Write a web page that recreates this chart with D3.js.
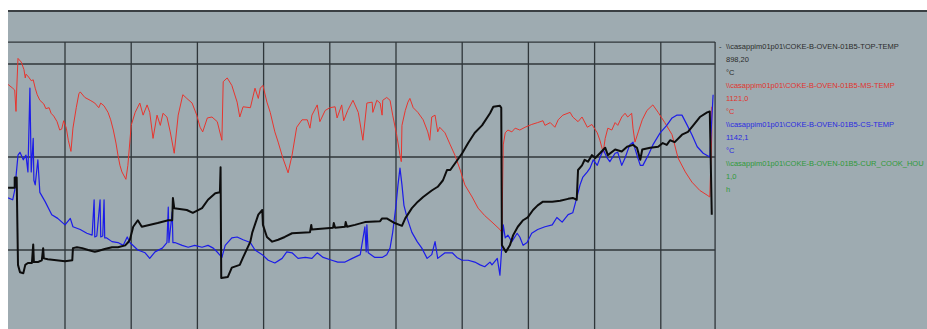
<!DOCTYPE html>
<html><head><meta charset="utf-8">
<script src="https://cdn.jsdelivr.net/npm/d3@7/dist/d3.min.js"></script>
<style>html,body{margin:0;padding:0;background:#fff;overflow:hidden}</style>
</head><body><svg id="c" width="927" height="329"></svg>
<script>
// ---- data: time in hours, temperature in °C ----
const hourTicks = [1,2,3,4,5,6,7,8,9,10];
const tempTicks = [800,900,1000];
const timeStart = 0.14, timeEnd = 10.82, frameTop = 1023.6;

const seriesNames = [
  "\\\\casappim01p01\\COKE-B-OVEN-01B5-TOP-TEMP",
  "\\\\casappim01p01\\COKE-B-OVEN-01B5-MS-TEMP",
  "\\\\casappim01p01\\COKE-B-OVEN-01B5-CS-TEMP",
  "\\\\casappim01p01\\COKE-B-OVEN-01B5-CUR_COOK_HOU"
];
const seriesCurrent = ["898,20","1121,0","1142,1","1,0"];
const seriesUnits = ["°C","°C","°C","h"];

const topTemp = [
[0.14,867],[0.24,867],[0.24,878],[0.27,878],[0.29,784],[0.32,776],[0.37,775],[0.40,784],[0.44,786],[0.50,786],
[0.52,806],[0.53,787],[0.59,787],[0.65,789],[0.67,802],[0.68,791],[0.74,790],[1.00,788],[1.11,789],[1.12,802],
[1.18,803],[1.26,802],[1.35,800],[1.45,798],[1.50,799],[1.60,801],[1.71,803],[1.80,803],[1.91,805],[1.95,808],
[1.98,811],[2.03,825],[2.10,832],[2.16,825],[2.40,829],[2.56,832],[2.62,832],[2.63,856],[2.65,845],[2.84,843],
[2.93,840],[3.07,845],[3.16,854],[3.27,861],[3.34,862],[3.35,889],[3.36,770],[3.46,771],[3.52,781],[3.64,784],
[3.69,792],[3.80,809],[3.83,819],[3.92,838],[3.98,843],[3.99,827],[4.05,814],[4.13,809],[4.22,811],[4.32,814],
[4.43,818],[4.70,819],[4.72,827],[4.73,822],[5.05,824],[5.06,829],[5.08,824],[5.23,825],[5.24,830],[5.26,825],
[5.38,827],[5.53,830],[5.76,831],[5.79,834],[5.86,834],[5.98,829],[6.09,826],[6.14,834],[6.24,845],[6.33,852],
[6.41,857],[6.54,864],[6.63,868],[6.71,875],[6.77,886],[6.82,886],[6.89,893],[7.00,904],[7.09,915],[7.19,926],
[7.30,934],[7.42,947],[7.47,954],[7.57,955],[7.59,953],[7.60,805],[7.66,798],[7.72,805],[7.77,816],[7.84,825],
[7.92,832],[7.99,835],[8.07,843],[8.14,848],[8.22,852],[8.36,852],[8.48,853],[8.60,855],[8.67,856],[8.73,854],
[8.75,886],[8.81,891],[8.85,897],[8.90,895],[8.96,902],[9.01,899],[9.08,904],[9.16,910],[9.20,902],[9.31,908],
[9.41,906],[9.49,911],[9.58,913],[9.64,910],[9.69,897],[9.72,908],[9.84,910],[9.96,911],[10.03,915],[10.09,913],
[10.14,918],[10.21,916],[10.32,924],[10.41,927],[10.49,934],[10.59,943],[10.70,948],[10.74,949],[10.77,838]
];

const msTemp = [
[0.14,978],[0.21,974],[0.24,972],[0.26,949],[0.27,972],[0.29,1006],[0.34,1002],[0.38,994],[0.40,985],[0.41,989],
[0.44,987],[0.49,982],[0.52,983],[0.55,974],[0.58,967],[0.62,961],[0.68,957],[0.71,952],[0.76,953],[0.79,947],
[0.83,944],[0.88,938],[0.92,929],[0.95,930],[0.98,939],[1.02,931],[1.05,918],[1.09,906],[1.12,931],[1.17,953],
[1.21,968],[1.23,970],[1.30,964],[1.38,961],[1.45,958],[1.51,953],[1.54,958],[1.59,955],[1.65,948],[1.69,940],
[1.73,929],[1.77,915],[1.80,902],[1.83,891],[1.86,884],[1.92,876],[1.95,891],[2.00,934],[2.06,948],[2.13,958],
[2.18,945],[2.24,956],[2.28,948],[2.33,920],[2.39,945],[2.44,934],[2.48,947],[2.54,943],[2.59,927],[2.65,904],
[2.71,945],[2.78,967],[2.84,963],[2.92,958],[2.99,945],[3.04,932],[3.08,927],[3.15,942],[3.22,943],[3.30,938],
[3.37,918],[3.39,981],[3.45,985],[3.52,977],[3.60,959],[3.64,943],[3.69,954],[3.80,953],[3.87,974],[3.92,963],
[3.95,974],[3.99,977],[4.05,959],[4.10,948],[4.17,927],[4.22,916],[4.29,899],[4.37,883],[4.43,902],[4.50,932],
[4.58,940],[4.66,940],[4.70,931],[4.73,945],[4.81,956],[4.85,938],[4.93,950],[5.00,953],[5.08,954],[5.11,942],
[5.18,956],[5.21,939],[5.27,950],[5.35,961],[5.43,948],[5.50,918],[5.56,958],[5.64,959],[5.65,948],[5.71,961],
[5.76,958],[5.79,945],[5.80,961],[5.86,964],[5.91,961],[5.95,945],[6.01,924],[6.06,902],[6.08,895],[6.09,934],
[6.14,950],[6.18,959],[6.21,963],[6.26,953],[6.33,948],[6.41,940],[6.48,927],[6.51,918],[6.54,943],[6.59,945],
[6.63,927],[6.66,932],[6.74,926],[6.82,913],[6.89,902],[6.97,886],[7.04,870],[7.15,857],[7.24,845],[7.34,837],
[7.45,830],[7.57,822],[7.60,819],[7.62,913],[7.65,926],[7.69,929],[7.75,927],[7.80,931],[7.87,929],[7.95,932],
[8.05,935],[8.14,937],[8.22,939],[8.25,934],[8.33,937],[8.40,932],[8.45,940],[8.52,945],[8.63,948],[8.67,943],
[8.75,938],[8.81,943],[8.89,932],[8.96,935],[9.04,926],[9.08,918],[9.13,905],[9.16,920],[9.20,931],[9.26,929],
[9.31,937],[9.35,934],[9.41,943],[9.46,947],[9.50,943],[9.56,947],[9.58,931],[9.61,916],[9.66,927],[9.72,940],
[9.79,950],[9.88,956],[9.96,948],[10.06,937],[10.17,924],[10.26,899],[10.37,884],[10.47,873],[10.59,864],[10.70,859],
[10.74,857],[10.77,924],[10.77,954]
];

const csTemp = [
[0.14,856],[0.21,854],[0.24,864],[0.29,902],[0.32,905],[0.37,897],[0.41,902],[0.44,884],[0.47,974],[0.49,884],
[0.50,897],[0.52,920],[0.53,875],[0.55,870],[0.59,897],[0.62,862],[0.70,852],[0.80,838],[0.89,834],[1.00,827],
[1.08,834],[1.12,825],[1.23,822],[1.33,818],[1.41,816],[1.44,854],[1.45,814],[1.48,815],[1.53,854],[1.54,814],
[1.57,815],[1.59,854],[1.60,813],[1.63,813],[1.71,809],[1.80,808],[1.88,805],[1.94,814],[1.98,808],[2.10,800],
[2.21,797],[2.28,791],[2.36,798],[2.47,802],[2.54,808],[2.56,846],[2.57,808],[2.62,841],[2.63,808],[2.66,808],
[2.77,805],[2.86,803],[2.96,805],[3.07,803],[3.16,805],[3.24,802],[3.31,797],[3.37,792],[3.42,805],[3.52,813],
[3.60,814],[3.69,811],[3.80,808],[3.87,800],[3.98,795],[4.07,789],[4.17,786],[4.28,791],[4.35,798],[4.43,797],
[4.52,791],[4.63,792],[4.73,791],[4.81,797],[4.90,792],[5.03,789],[5.12,787],[5.23,787],[5.34,791],[5.46,795],
[5.53,825],[5.55,798],[5.56,827],[5.58,797],[5.68,792],[5.79,792],[5.86,795],[5.91,802],[5.95,819],[6.00,848],
[6.03,870],[6.06,888],[6.09,870],[6.12,848],[6.17,834],[6.24,819],[6.32,809],[6.39,802],[6.47,791],[6.54,795],
[6.59,809],[6.63,791],[6.74,797],[6.85,797],[6.92,792],[7.00,789],[7.09,789],[7.19,787],[7.27,784],[7.34,782],
[7.42,787],[7.45,784],[7.53,791],[7.57,773],[7.60,805],[7.62,827],[7.65,813],[7.69,816],[7.75,809],[7.83,818],
[7.87,814],[7.92,805],[7.98,808],[8.05,818],[8.14,822],[8.25,825],[8.36,827],[8.43,835],[8.51,830],[8.60,838],
[8.67,840],[8.73,856],[8.78,870],[8.82,878],[8.89,884],[8.93,888],[8.98,897],[9.04,891],[9.08,899],[9.13,908],
[9.19,899],[9.23,895],[9.31,904],[9.35,905],[9.41,891],[9.46,899],[9.53,913],[9.58,916],[9.64,902],[9.69,891],
[9.73,891],[9.81,902],[9.88,913],[9.99,926],[10.09,934],[10.17,942],[10.24,945],[10.32,945],[10.40,934],[10.47,924],
[10.55,911],[10.64,904],[10.74,900],[10.79,967]
];

// ---- drawing ----
const W = 927, H = 329;
const svg = d3.select("#c");
const x = d3.scaleLinear().domain([0, 10]).range([-1.2, 660.8]);
const y = d3.scaleLinear().domain([800, 1000]).range([250, 64]);
const bg = "#9eabb1", gridCol = "#2f363a";

svg.append("rect").attr("x", 8).attr("y", 10).attr("width", W - 8).attr("height", H - 10).attr("fill", bg);
svg.append("line").attr("x1", 8).attr("x2", W).attr("y1", 11).attr("y2", 11)
  .attr("stroke", "#3a3f43").attr("stroke-width", 2);

const grid = svg.append("g").attr("stroke", gridCol).attr("stroke-width", 1.3);
grid.selectAll(".v").data(hourTicks.concat([timeEnd])).join("line")
  .attr("x1", d => x(d)).attr("x2", d => x(d)).attr("y1", y(frameTop)).attr("y2", H);
grid.selectAll(".h").data(tempTicks.concat([frameTop])).join("line")
  .attr("x1", x(timeStart)).attr("x2", x(timeEnd)).attr("y1", d => y(d)).attr("y2", d => y(d));

svg.append("clipPath").attr("id", "clip").append("rect")
  .attr("x", x(timeStart)).attr("y", 12).attr("width", x(timeEnd) - x(timeStart) + 1).attr("height", H);

const line = d3.line().x(d => x(d[0])).y(d => y(d[1]));
const plot = svg.append("g").attr("clip-path", "url(#clip)");
const seriesColors = ["#0d0d0d", "#e8352e", "#1c1ce8", "#1e9a2e"];
plot.append("path").datum(msTemp).attr("d", line).attr("fill", "none")
  .attr("stroke", seriesColors[1]).attr("stroke-width", 1).attr("stroke-linejoin", "round");
plot.append("path").datum(csTemp).attr("d", line).attr("fill", "none")
  .attr("stroke", seriesColors[2]).attr("stroke-width", 1.2).attr("stroke-linejoin", "round");
plot.append("path").datum(topTemp).attr("d", line).attr("fill", "none")
  .attr("stroke", seriesColors[0]).attr("stroke-width", 2).attr("stroke-linejoin", "round");

// legend
const textCols = ["#2b2b2b", "#e0342e", "#2a2ae0", "#2f9a3a"];
const lg = svg.append("g").attr("font-family", "'Liberation Sans', Arial, sans-serif").attr("font-size", 7.5);
const rowH = 13.05, firstBase = 48.5, lx = 726;
seriesNames.forEach((name, i) => {
  const base = firstBase + i * 3 * rowH;
  [name, seriesCurrent[i], seriesUnits[i]].forEach((t, j) => {
    lg.append("text").attr("x", lx).attr("y", base + j * rowH).attr("fill", textCols[i]).text(t);
  });
});
lg.append("text").attr("x", 719).attr("y", firstBase).attr("fill", textCols[0]).text("-");
</script></body></html>
